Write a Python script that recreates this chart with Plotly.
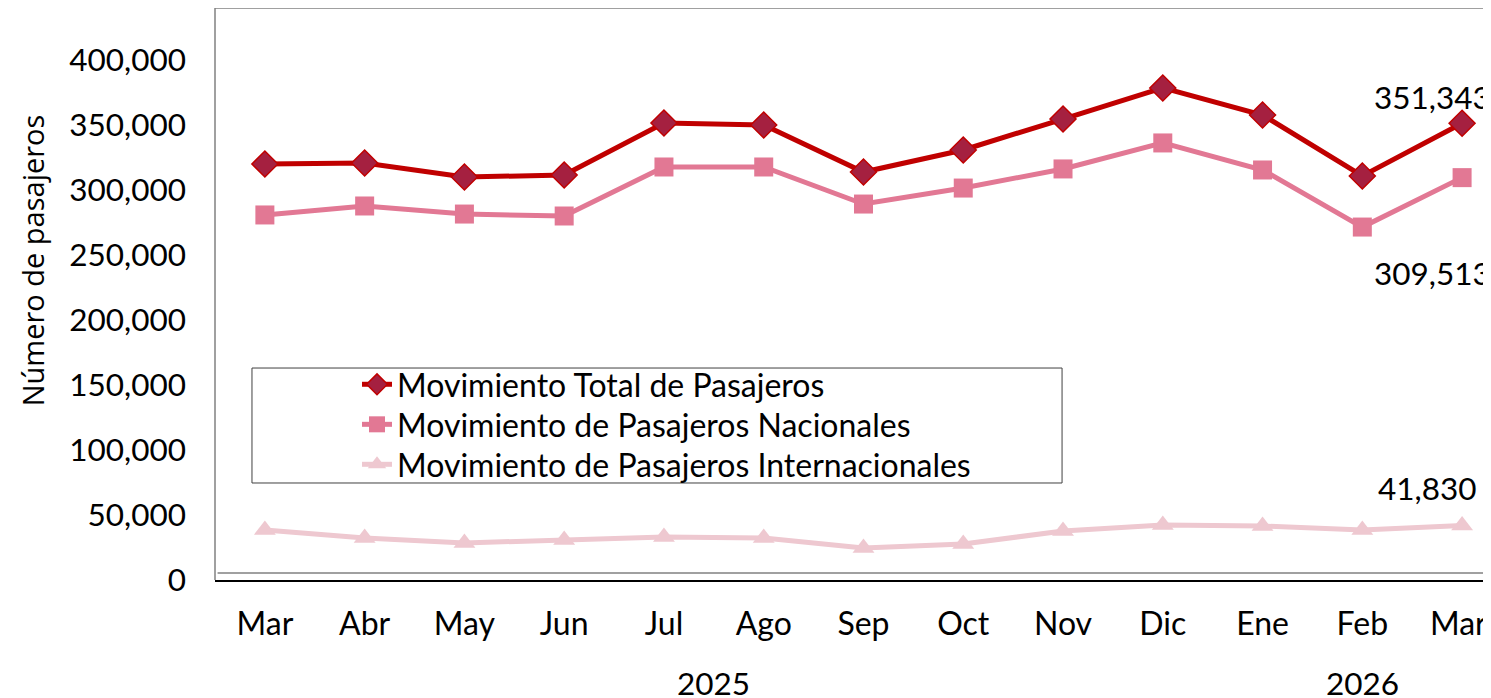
import plotly.graph_objects as go

meses = ["Mar", "Abr", "May", "Jun", "Jul", "Ago", "Sep", "Oct", "Nov", "Dic", "Ene", "Feb", "Mar "]
anios = ["2025", "2026"]

total = [320000, 320800, 310000, 311500, 351500, 350000, 313800, 330800, 354600, 378500, 357700, 310800, 351343]
nacional = [280800, 287700, 281500, 280000, 317700, 317700, 289200, 301500, 316200, 336200, 315400, 271500, 309513]
internacional = [38500, 32300, 28500, 30800, 33100, 32300, 24600, 27700, 37700, 42300, 41500, 38500, 41830]

FONT = "Lato"

fig = go.Figure()
fig.add_trace(go.Scatter(
    x=meses, y=total, mode="lines+markers", name="Movimiento Total de Pasajeros", legend="legend",
    line=dict(color="#C00000", width=5),
    marker=dict(symbol="diamond", size=20, color="#A52040", line=dict(color="#C00000", width=1.5))))
fig.add_trace(go.Scatter(
    x=meses, y=nacional, mode="lines+markers", name="Movimiento de Pasajeros Nacionales", legend="legend2",
    line=dict(color="#E27894", width=5),
    marker=dict(symbol="square", size=19, color="#E27894")))
fig.add_trace(go.Scatter(
    x=meses, y=internacional, mode="lines+markers", name="Movimiento de Pasajeros Internacionales",
    legend="legend3",
    line=dict(color="#EEC8D0", width=5),
    marker=dict(symbol="triangle-up", size=19, color="#EEC8D0")))

# etiquetas del último mes
for serie, xs, ys in [(total, -30, 26), (nacional, -30, -95), (internacional, -35, 38)]:
    fig.add_annotation(x=meses[-1], y=serie[-1], text=f"{serie[-1]:,}", showarrow=False,
                       xshift=xs, yshift=ys, font=dict(family=FONT, size=31.5, color="black"))

# años
fig.add_annotation(x=4.5, y=-0.18, xref="x", yref="paper", yanchor="middle", text=anios[0],
                   showarrow=False, font=dict(family=FONT, size=31.5, color="black"))
fig.add_annotation(x=11, y=-0.18, xref="x", yref="paper", yanchor="middle", text=anios[1],
                   showarrow=False, font=dict(family=FONT, size=31.5, color="black"))

# título eje y
fig.add_annotation(x=-0.1425, y=0.559, xref="paper", yref="paper", xanchor="center", yanchor="middle",
                   text="Número de pasajeros", textangle=-90, showarrow=False,
                   font=dict(family="Open Sans", size=29, color="black"))

# marco del área de trazado y caja de leyenda
fig.add_shape(type="line", xref="paper", yref="paper", x0=0, x1=0, y0=0, y1=1,
              line=dict(color="#808080", width=1.5))
fig.add_shape(type="line", xref="paper", yref="paper", x0=0, x1=1, y0=1, y1=1,
              line=dict(color="#808080", width=1.5))
fig.add_shape(type="line", xref="paper", yref="paper", x0=0.002, x1=1, y0=0.0122, y1=0.0122,
              line=dict(color="#808080", width=1.5))
fig.add_shape(type="rect", xref="paper", yref="paper", x0=0.0288, x1=0.6597, y0=0.1696, y1=0.3706,
              line=dict(color="#404040", width=1), fillcolor="white", layer="below")

leg = dict(x=0.1106, xanchor="left", yanchor="top", bgcolor="rgba(0,0,0,0)", borderwidth=0,
           font=dict(family=FONT, size=32, color="black"))

fig.update_layout(
    width=1491, height=698,
    margin=dict(l=207, r=0, t=0, b=126),
    paper_bgcolor="white", plot_bgcolor="white",
    font=dict(family=FONT, size=32, color="black"),
    showlegend=True,
    legend=dict(leg, y=0.3899),
    legend2=dict(leg, y=0.3199),
    legend3=dict(leg, y=0.25),
    xaxis=dict(range=[-0.5, 12.37], showgrid=False, showline=True, linecolor="black", linewidth=1.5,
               ticks="", ticklabelstandoff=15, tickfont=dict(family=FONT, size=32)),
    yaxis=dict(range=[0, 440000], tickvals=[0, 50000, 100000, 150000, 200000, 250000, 300000, 350000, 400000],
               tickformat=",", showgrid=False, showline=False, zeroline=False, ticks="",
               ticklabelstandoff=28, tickfont=dict(family=FONT, size=31.5)),
)

fig.write_html("out.html")
